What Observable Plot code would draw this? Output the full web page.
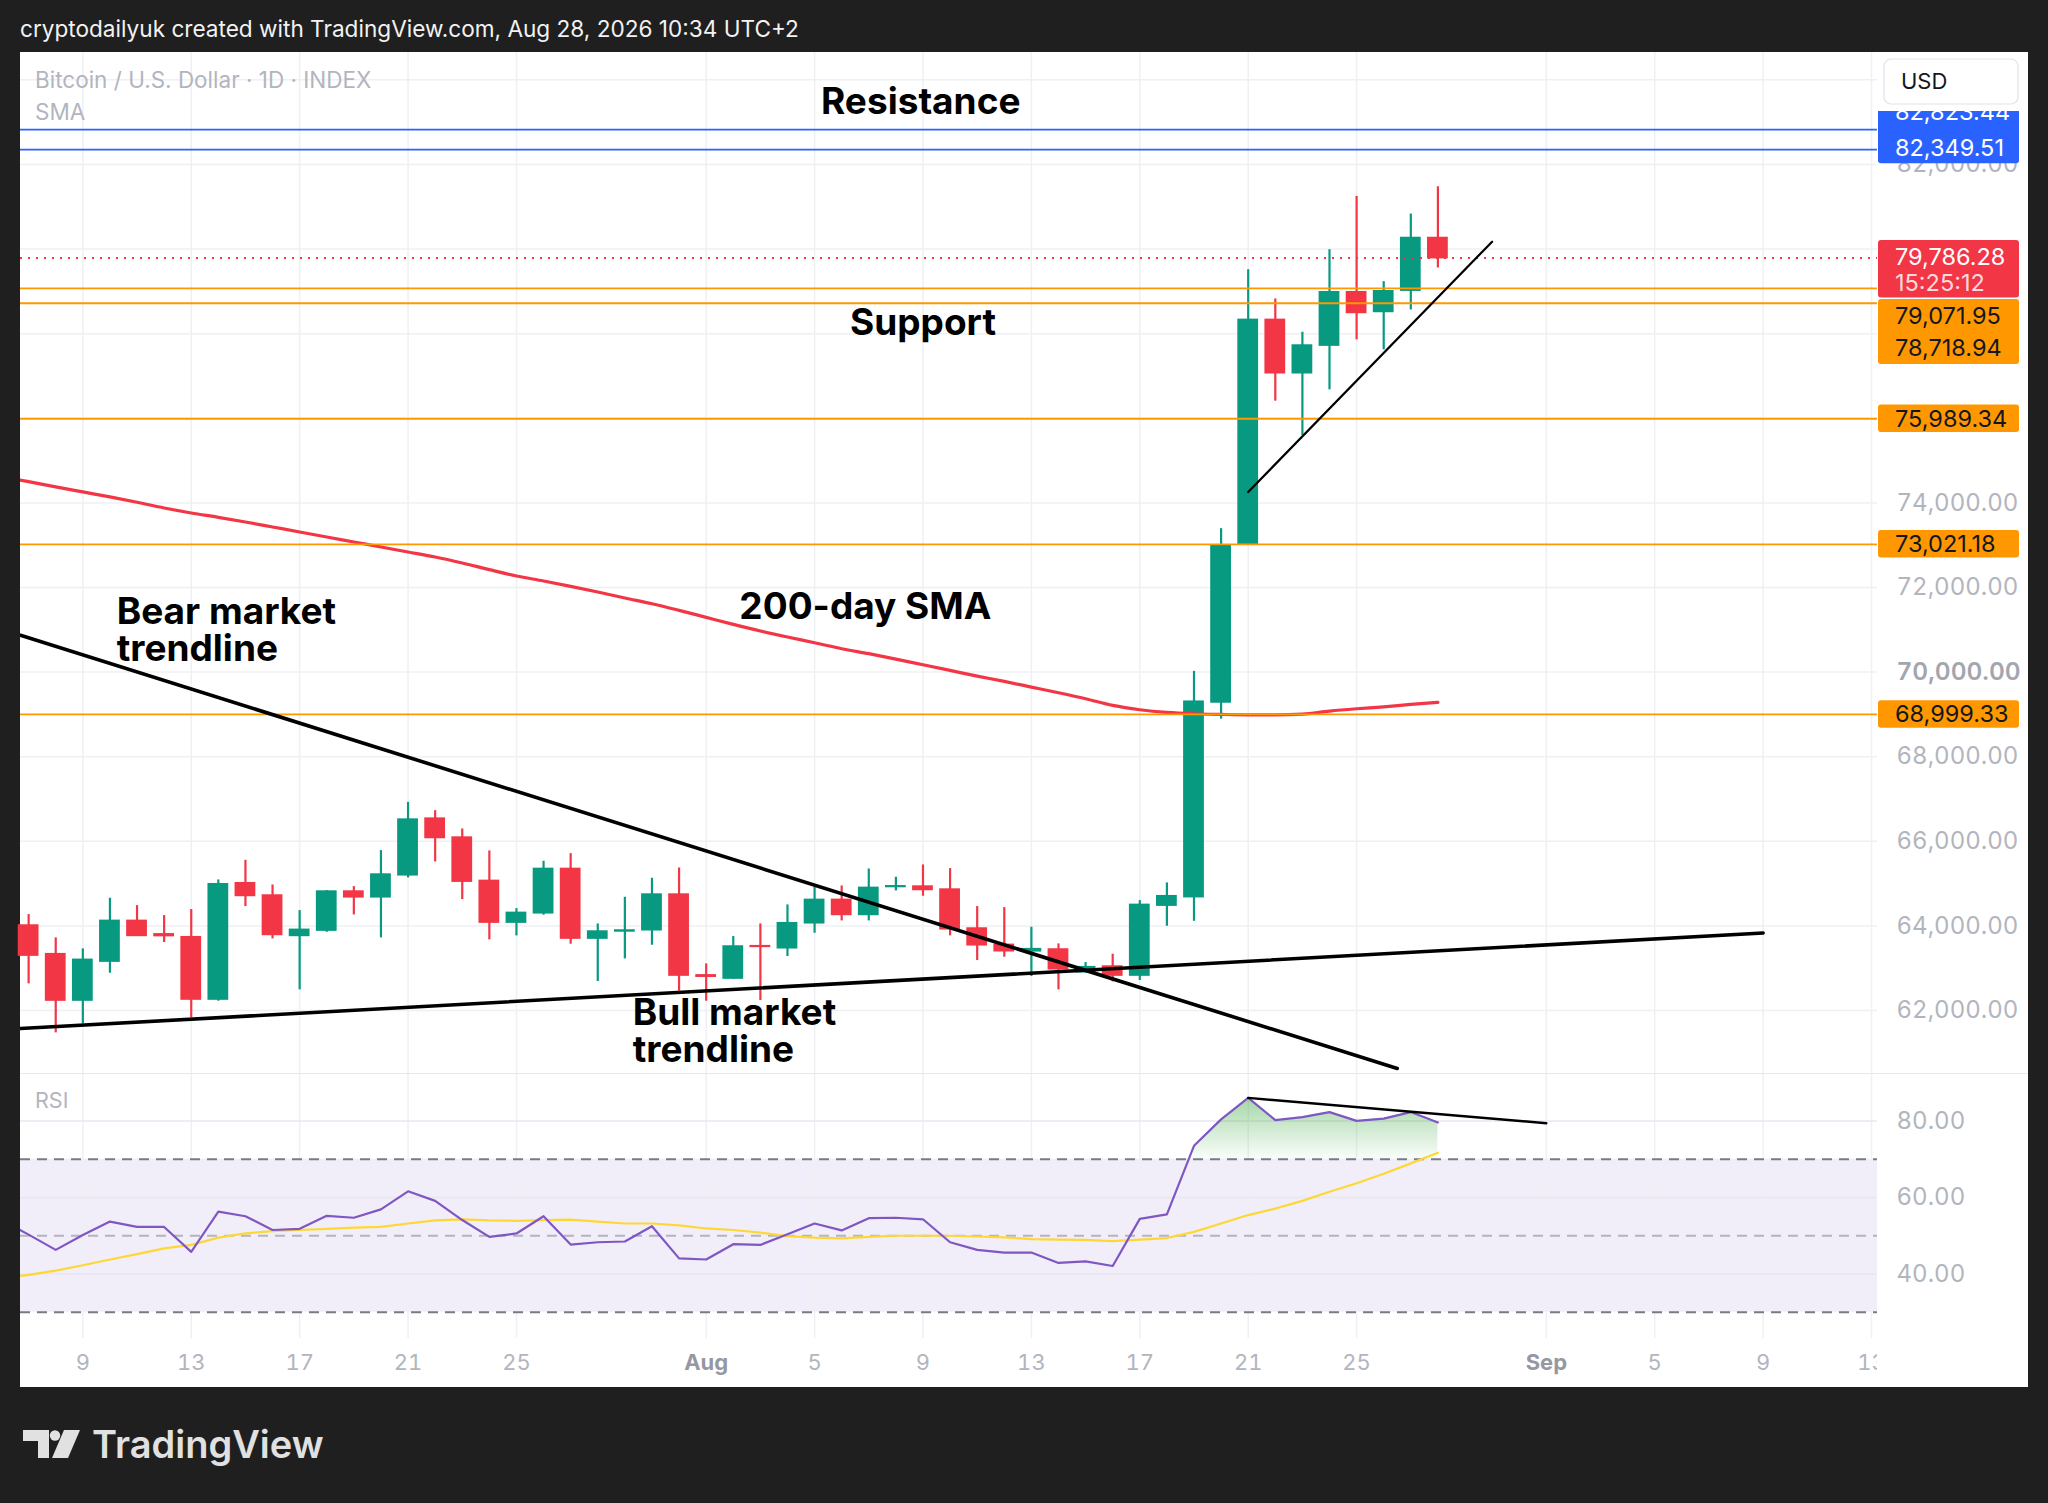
<!DOCTYPE html>
<html>
<head>
<meta charset="utf-8">
<script src="https://cdn.jsdelivr.net/npm/d3@7"></script>
<script src="https://cdn.jsdelivr.net/npm/@observablehq/plot@0.6"></script>
<style>
html, body { margin: 0; padding: 0; background: #1f1f1f; }
#page { position: relative; width: 2048px; height: 1503px; background: #1f1f1f; overflow: hidden; font-family: Inter, "Noto Sans", sans-serif; }
#header { position: absolute; left: 20px; top: 15px; color: #f2f2f2; font-size: 22.6px; line-height: 28px; white-space: nowrap; }
#panel { position: absolute; left: 20px; top: 52px; width: 2008px; height: 1335px; background: #fff; }
#main { position: absolute; left: 20px; top: 52px; }
#rsi { position: absolute; left: 20px; top: 1073px; }
#legend { position: absolute; left: 35px; top: 64px; color: #b2b5be; font-size: 22.5px; line-height: 32px; white-space: nowrap; }
#rsiLabel { position: absolute; left: 35px; top: 1086px; color: #b2b5be; font-size: 21.5px; line-height: 28px; }
#logo { position: absolute; left: 20px; top: 1420px; }
</style>
</head>
<body>
<div id="page">
  <div id="header">cryptodailyuk created with TradingView.com, Aug 28, 2026 10:34 UTC+2</div>
  <div id="panel"></div>
  <div id="main"></div>
  <div id="rsi"></div>
  <div id="legend">Bitcoin / U.S. Dollar · 1D · INDEX<br>SMA</div>
  <div id="rsiLabel">RSI</div>
  <svg id="logo" width="330" height="60" viewBox="0 0 330 60">
    <path d="M3 10 H29 V38 H18 V21 H3 Z" fill="#e1e1e1"/>
    <circle cx="35" cy="15.5" r="5.2" fill="#e1e1e1"/>
    <path d="M44 10 H60 L48 38 H32 Z" fill="#e1e1e1"/>
    <text x="72" y="38" fill="#e1e1e1" font-family="Inter, sans-serif" font-weight="600" font-size="38">TradingView</text>
  </svg>
</div>
<script>
// ---------------- data ----------------
const dates = ["2026-07-07","2026-07-08","2026-07-09","2026-07-10","2026-07-11","2026-07-12","2026-07-13","2026-07-14","2026-07-15","2026-07-16","2026-07-17","2026-07-18","2026-07-19","2026-07-20","2026-07-21","2026-07-22","2026-07-23","2026-07-24","2026-07-25","2026-07-26","2026-07-27","2026-07-28","2026-07-29","2026-07-30","2026-07-31",
  "2026-08-01","2026-08-02","2026-08-03","2026-08-04","2026-08-05","2026-08-06","2026-08-07","2026-08-08","2026-08-09","2026-08-10","2026-08-11","2026-08-12","2026-08-13","2026-08-14","2026-08-15","2026-08-16","2026-08-17","2026-08-18","2026-08-19","2026-08-20","2026-08-21","2026-08-22","2026-08-23","2026-08-24","2026-08-25","2026-08-26","2026-08-27","2026-08-28"];
const open  = [64008,63331,62236,63157,64118,63800,63732,62260,65008,64717,63764,63890,64811,64677,65197,66535,66087,65063,64079,64299,65346,63701,63870,63898,64740,
  62830,62756,63520,63472,64063,64614,64260,64920,64929,64858,63937,63551,63400,63441,62906,63039,62827,64480,64680,69283,73036,78325,77066,77719,78979,78514,79018,80261];
const high  = [64268,63717,63457,64654,64480,64244,64386,65087,65551,64968,64362,64835,64929,65780,66921,66724,66291,65772,64409,65528,65709,64047,64677,65126,65370,
  63102,63748,64047,64496,64913,64945,65346,65150,65441,65354,64457,64433,63969,63575,63134,63331,64598,65016,70018,73391,79514,78821,78034,79986,81245,79230,80828,81473];
const low   = [62630,61472,61685,62882,63750,63606,61827,62220,64457,63693,62488,63850,64260,63717,65134,65512,64622,63669,63764,64252,63567,62685,63220,63543,62457,
  62220,62740,62236,63276,63827,64118,64118,64827,64701,63764,63181,63260,62803,62488,62882,62677,62709,63992,64109,68889,73000,76405,75594,76673,77853,77617,78561,79553];
const close = [63299,62236,63197,64118,63764,63760,62260,64984,64709,63787,63906,64811,64677,65213,66512,66079,65047,64079,64307,65346,63701,63866,63890,64740,62827,
  62800,63512,63505,64063,64614,64260,64898,64935,64850,63921,63543,63402,63450,62976,63024,62827,64496,64701,69299,72996,78325,77066,77719,78979,78491,79002,80261,79786.28];

// indicator series start one day earlier (the day just off the left edge)
const lineDates = ["2026-07-06", ...dates];
const sma200 = [74620,74504,74377,74259,74141,74014,73880,73762,73659,73549,73431,73313,73194,73076,72958,72840,72722,72580,72422,72272,72154,72027,71893,71751,71617,71460,
  71294,71128,70971,70829,70695,70553,70435,70308,70174,70040,69906,69780,69646,69512,69370,69212,69110,69047,69015,69000,68991,68991,69007,69078,69133,69180,69236,69283];
const rsi = [54.1,50.3,46.3,50.2,53.7,52.3,52.3,45.8,56.3,55.1,51.5,51.8,55.2,54.7,56.9,61.6,59.1,54.1,49.7,50.6,55.1,47.7,48.3,48.5,52.5,44.1,
  43.8,47.8,47.6,50.4,53.2,51.4,54.6,54.7,54.3,48.3,46.3,45.6,45.6,42.9,43.3,42.1,54.4,55.6,73.5,80.4,86.0,80.2,81.0,82.3,80.0,80.6,82.3,79.6];
const rsiMa = [39.0,39.8,40.9,42.3,43.8,45.2,46.7,47.6,49.5,50.6,51.2,51.5,51.8,52.1,52.3,53.2,54.0,54.3,54.0,53.9,54.1,54.2,53.7,53.2,53.2,52.7,
  51.9,51.5,50.8,49.9,49.5,49.3,49.7,50.0,50.0,50.0,49.8,49.6,49.1,49.0,48.9,48.6,49.0,49.4,51.0,53.2,55.4,57.1,59.1,61.5,63.7,66.2,68.9,71.7];

const resistanceLevels = [82823.44, 82349.51];
const supportLevels = [79071.95, 78718.94, 75989.34, 73021.18, 68999.33];
const lastPrice = 79786.28;
const countdown = "15:25:12";

const bearTrend  = [{date: "2026-07-06T16:48Z", price: 70870}, {date: "2026-08-26T12:00Z", price: 60630}];
const bullTrend  = [{date: "2026-07-06T16:48Z", price: 61574}, {date: "2026-09-09T00:00Z", price: 63832}];
const rallyTrend = [{date: "2026-08-21T00:00Z", price: 74257}, {date: "2026-08-30T00:00Z", price: 80175}];
const rsiTrend   = [{date: "2026-08-21T00:00Z", rsi: 86.0}, {date: "2026-09-01T00:00Z", rsi: 79.4}];

const centerNotes = [
  {text: "Resistance",  date: "2026-08-08T22:00Z", price: 83465},
  {text: "Support",     date: "2026-08-09T00:00Z", price: 78241},
  {text: "200-day SMA", date: "2026-08-06T21:00Z", price: 71527}
];
const leftNotes = [
  {text: "Bear market\ntrendline", date: "2026-07-10T06:00Z", price: 70971},
  {text: "Bull market\ntrendline", date: "2026-07-29T07:00Z", price: 61504}
];

const dayTicks = ["2026-07-09","2026-07-13","2026-07-17","2026-07-21","2026-07-25","2026-08-05","2026-08-09","2026-08-13","2026-08-17","2026-08-21","2026-08-25","2026-09-05","2026-09-09","2026-09-13"];
const monthTicks = ["2026-08-01","2026-09-01"];
const priceGrid = [62000,64000,66000,68000,70000,72000,74000,76000,78000,80000,82000,84000];
// scale labels left visible (the others sit under the price badges / currency button)
const priceLabels = [62000,64000,66000,68000,72000,74000,82000];
const boldPriceLabel = [70000];
const rsiTicks = [40, 60, 80];

// ---------------- build ----------------
const up = "#089981", down = "#f23645", grid = "#eef0f4";
const P = s => new Date(s);
const candles = dates.map((d, i) => ({date: P(d), open: open[i], high: high[i], low: low[i], close: close[i],
  color: close[i] >= open[i] ? up : down}));
const smaRows = lineDates.map((d, i) => ({date: P(d), sma: sma200[i]}));
const rsiRows = lineDates.map((d, i) => ({date: P(d), rsi: rsi[i], ma: rsiMa[i]}));
const overbought = rsiRows.filter(r => r.rsi > 70);
const tr = a => a.map(p => ({...p, date: P(p.date)}));
const gridDates = [...dayTicks, ...monthTicks].map(P);
const halfBody = 9.2 * 3600e3;
const xDomain = [P("2026-07-06T16:48Z"), P("2026-09-13T05:17Z")];
const font = "Inter, sans-serif";

const W = 2008, MR = 151;

const main = Plot.plot({
  width: W, height: 1021, marginLeft: 0, marginRight: MR, marginTop: 0, marginBottom: 0,
  x: {type: "utc", domain: xDomain, axis: null},
  y: {domain: [60511, 84647], axis: null},
  color: {type: "identity"},
  style: {fontFamily: font, background: "transparent", overflow: "visible"},
  marks: [
    Plot.ruleX(gridDates, {stroke: grid, strokeWidth: 1.5}),
    Plot.ruleY(priceGrid, {stroke: grid, strokeWidth: 1.5}),
    Plot.ruleX(candles, {x: "date", y1: "low", y2: "high", stroke: "color", strokeWidth: 2.2}),
    Plot.rect(candles, {x1: d => new Date(+d.date - halfBody), x2: d => new Date(+d.date + halfBody),
      y1: d => Math.min(d.open, d.close), y2: d => Math.max(d.open, d.close), fill: "color",
      insetTop: -0.8, insetBottom: -0.8}),
    Plot.line(smaRows, {x: "date", y: "sma", stroke: "#f23645", strokeWidth: 3.2, curve: "monotone-x", clip: true}),
    Plot.ruleY(resistanceLevels, {stroke: "#2962ff", strokeWidth: 1.8}),
    Plot.ruleY(supportLevels, {stroke: "#ff9800", strokeWidth: 1.8}),
    Plot.ruleY([lastPrice], {stroke: "#f23645", strokeWidth: 2, strokeDasharray: "2,6"}),
    Plot.line(tr(bearTrend), {x: "date", y: "price", stroke: "#000", strokeWidth: 3.6, clip: true}),
    Plot.line(tr(bullTrend), {x: "date", y: "price", stroke: "#000", strokeWidth: 3.6, clip: true}),
    Plot.line(tr(rallyTrend), {x: "date", y: "price", stroke: "#000", strokeWidth: 2.2}),
    Plot.text(tr(centerNotes), {x: "date", y: "price", text: "text", textAnchor: "middle", lineAnchor: "middle",
      fontSize: 37, fontWeight: 700, fill: "#000", fontFamily: font}),
    Plot.text(tr(leftNotes), {x: "date", y: "price", text: "text", textAnchor: "start", lineAnchor: "middle",
      fontSize: 37, fontWeight: 700, fill: "#000", lineHeight: 1.0, fontFamily: font}),
    Plot.axisY({anchor: "right", ticks: priceLabels, tickFormat: d3.format(",.2f"),
      tickSize: 0, tickPadding: 19, fontSize: 24, color: "#b2b5be", label: null, fontFamily: font}),
    Plot.axisY({anchor: "right", ticks: boldPriceLabel, tickFormat: d3.format(",.2f"),
      tickSize: 0, tickPadding: 19, fontSize: 24.5, fontWeight: 600, color: "#a3a6af", label: null, fontFamily: font})
  ]
});
document.getElementById("main").appendChild(main);

// price-axis badges placed with Plot's y scale
const yS = main.scale("y");
const x0 = W - MR + 1;
const layer = d3.select(main).append("g").attr("font-family", font).attr("font-size", 23.5).attr("text-anchor", "start");
const fmt = d3.format(",.2f");
function badgeGroup(items, fill, textFill, padTop, padBottom) {
  const cs = items.map(it => yS.apply(it.value) + it.dy);
  const top = cs[0] - padTop, bottom = cs[cs.length - 1] + padBottom;
  layer.append("rect").attr("x", x0).attr("y", top).attr("width", 141).attr("height", bottom - top)
    .attr("rx", 3).attr("fill", fill);
  items.forEach((it, i) => layer.append("text").attr("x", x0 + 17).attr("y", cs[i]).attr("dy", "0.36em")
    .attr("fill", it.fill || textFill).text(it.text ?? fmt(it.value)));
}
badgeGroup([{value: resistanceLevels[0], dy: -18}, {value: resistanceLevels[1], dy: -1.5}], "#2962ff", "#fff", 16, 15.5);
badgeGroup([{value: lastPrice, dy: -1}, {value: lastPrice, dy: 24.5, text: countdown, fill: "rgba(255,255,255,0.82)"}], "#f23645", "#fff", 16.5, 15.5);
badgeGroup([{value: supportLevels[0], dy: 27.7}, {value: supportLevels[1], dy: 44.8}], "#ff9800", "#131722", 16.5, 16.5);
badgeGroup([{value: supportLevels[2], dy: 0}], "#ff9800", "#131722", 13.7, 13.7);
badgeGroup([{value: supportLevels[3], dy: 0}], "#ff9800", "#131722", 13.7, 13.7);
badgeGroup([{value: supportLevels[4], dy: 0}], "#ff9800", "#131722", 13.7, 13.7);
// clip the top of the price scale under the currency button
layer.append("rect").attr("x", x0 - 1).attr("y", 0).attr("width", MR).attr("height", 59).attr("fill", "#fff");
layer.append("rect").attr("x", x0 + 6).attr("y", 7).attr("width", 134).attr("height", 45).attr("rx", 7)
  .attr("fill", "#fff").attr("stroke", "#e0e3eb").attr("stroke-width", 1.2);
layer.append("text").attr("x", x0 + 23).attr("y", 29.5).attr("dy", "0.36em").attr("font-size", 22)
  .attr("fill", "#131722").text("USD");

// ---------------- RSI pane ----------------
const gradientDefs = () => {
  const defs = d3.create("svg:defs");
  const lg = defs.append("linearGradient").attr("id", "rsiGreen").attr("x1", 0).attr("y1", 0).attr("x2", 0).attr("y2", 1);
  lg.append("stop").attr("offset", "0%").attr("stop-color", "#4caf50").attr("stop-opacity", 0.5);
  lg.append("stop").attr("offset", "100%").attr("stop-color", "#4caf50").attr("stop-opacity", 0.03);
  return defs.node();
};

const rsiPlot = Plot.plot({
  width: W, height: 314, marginLeft: 0, marginRight: MR, marginTop: 0, marginBottom: 49,
  x: {type: "utc", domain: xDomain, axis: null},
  y: {domain: [23.16, 92.38], axis: null},
  style: {fontFamily: font, background: "transparent", overflow: "visible"},
  marks: [
    gradientDefs,
    Plot.rect([0], {y1: 30, y2: 70, fill: "#7e57c2", fillOpacity: 0.1}),
    Plot.ruleX(gridDates, {stroke: grid, strokeWidth: 1.5}),
    Plot.ruleY(rsiTicks, {stroke: "#e9e6f0", strokeWidth: 1.5}),
    Plot.ruleY([70, 30], {stroke: "#787b86", strokeWidth: 2, strokeDasharray: "10,7"}),
    Plot.ruleY([50], {stroke: "#b2b5be", strokeWidth: 2, strokeDasharray: "10,7"}),
    Plot.areaY(overbought, {x: "date", y1: 70, y2: "rsi", fill: "url(#rsiGreen)"}),
    Plot.line(rsiRows, {x: "date", y: "ma", stroke: "#fdd835", strokeWidth: 2.2, clip: true}),
    Plot.line(rsiRows, {x: "date", y: "rsi", stroke: "#7e57c2", strokeWidth: 2.2, clip: true}),
    Plot.line(tr(rsiTrend), {x: "date", y: "rsi", stroke: "#000", strokeWidth: 2.4}),
    Plot.axisY({anchor: "right", ticks: rsiTicks, tickFormat: d3.format(".2f"), tickSize: 0, tickPadding: 19,
      fontSize: 24, color: "#b2b5be", label: null, fontFamily: font}),
    Plot.axisX({ticks: dayTicks.map(P), tickFormat: d3.utcFormat("%-d"), tickSize: 0, tickPadding: 16,
      fontSize: 22, color: "#b2b5be", label: null, fontFamily: font}),
    Plot.axisX({ticks: monthTicks.map(P), tickFormat: d3.utcFormat("%b"), tickSize: 0, tickPadding: 16,
      fontSize: 22, fontWeight: 700, color: "#9598a1", label: null, fontFamily: font})
  ]
});
document.getElementById("rsi").appendChild(rsiPlot);
const rl = d3.select(rsiPlot).append("g");
rl.append("rect").attr("x", W - MR).attr("y", 314 - 49).attr("width", MR).attr("height", 49).attr("fill", "#fff");
rl.append("line").attr("x1", 0).attr("x2", W).attr("y1", 0.5).attr("y2", 0.5).attr("stroke", "#e6e8ee").attr("stroke-width", 1);
</script>
</body>
</html>
